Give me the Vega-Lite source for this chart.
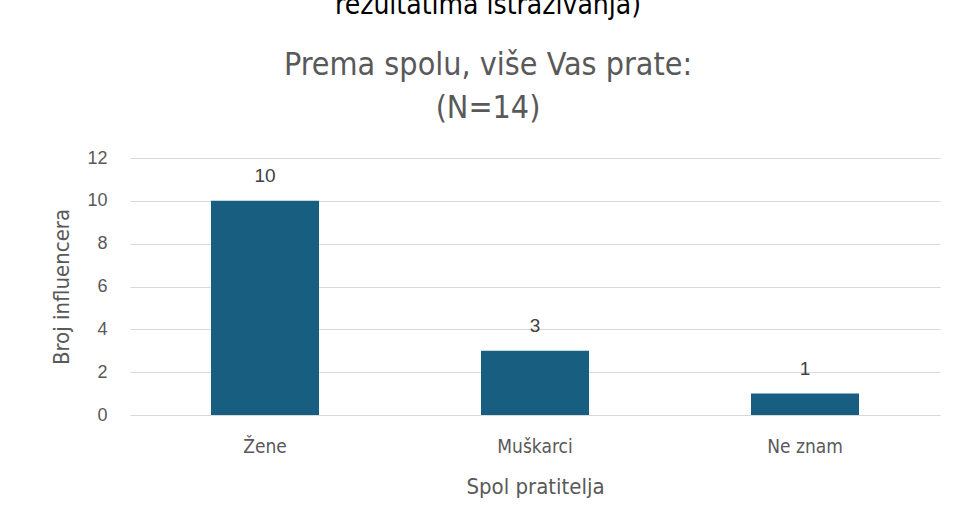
{
  "$schema": "https://vega.github.io/schema/vega-lite/v6.json",
  "width": 810,
  "height": 257,
  "autosize": {"type": "none"},
  "padding": {"left": 130, "top": 158, "right": 15, "bottom": 106},
  "background": "white",
  "title": {
    "text": "rezultatima istraživanja)",
    "subtitle": ["Prema spolu, više Vas prate:", "(N=14)"],
    "anchor": "middle",
    "frame": "group",
    "dx": -47,
    "font": "Liberation Sans Narrow, DejaVu Sans Condensed, sans-serif",
    "fontSize": 28,
    "fontWeight": "normal",
    "color": "#000000",
    "subtitleFont": "Liberation Sans Narrow, DejaVu Sans Condensed, sans-serif",
    "subtitleFontSize": 32,
    "subtitleColor": "#595959",
    "subtitleLineHeight": 43,
    "subtitlePadding": 30,
    "offset": 25
  },
  "data": {
    "values": [
      {"spol": "Žene", "broj": 10},
      {"spol": "Muškarci", "broj": 3},
      {"spol": "Ne znam", "broj": 1}
    ]
  },
  "encoding": {
    "x": {
      "field": "spol",
      "type": "nominal",
      "sort": null,
      "title": "Spol pratitelja",
      "scale": {"paddingInner": 0.6, "paddingOuter": 0.3},
      "axis": {
        "labelAngle": 0,
        "domain": false,
        "ticks": false,
        "labelPadding": 22,
        "labelFont": "Liberation Sans Narrow, DejaVu Sans Condensed, sans-serif",
        "labelFontSize": 19,
        "labelColor": "#595959",
        "titleFont": "Liberation Sans Narrow, DejaVu Sans Condensed, sans-serif",
        "titleFontSize": 22,
        "titleFontWeight": "normal",
        "titleColor": "#595959",
        "titlePadding": 20
      }
    },
    "y": {
      "field": "broj",
      "type": "quantitative",
      "title": "Broj influencera",
      "scale": {"domain": [0, 12]},
      "axis": {
        "values": [0, 2, 4, 6, 8, 10, 12],
        "domain": false,
        "ticks": false,
        "labelPadding": 23,
        "labelFont": "Liberation Sans, Arial, sans-serif",
        "labelFontSize": 18,
        "labelColor": "#595959",
        "gridColor": "#d9d9d9",
        "gridWidth": 1,
        "titleFont": "Liberation Sans Narrow, DejaVu Sans Condensed, sans-serif",
        "titleFontSize": 22,
        "titleFontWeight": "normal",
        "titleColor": "#595959",
        "titlePadding": 13
      }
    }
  },
  "layer": [
    {"mark": {"type": "bar", "color": "#175e80"}},
    {
      "mark": {
        "type": "text",
        "baseline": "bottom",
        "dy": -15,
        "font": "Liberation Sans, Arial, sans-serif",
        "fontSize": 19,
        "color": "#404040"
      },
      "encoding": {"text": {"field": "broj", "type": "quantitative"}}
    }
  ],
  "config": {"view": {"stroke": null}}
}
